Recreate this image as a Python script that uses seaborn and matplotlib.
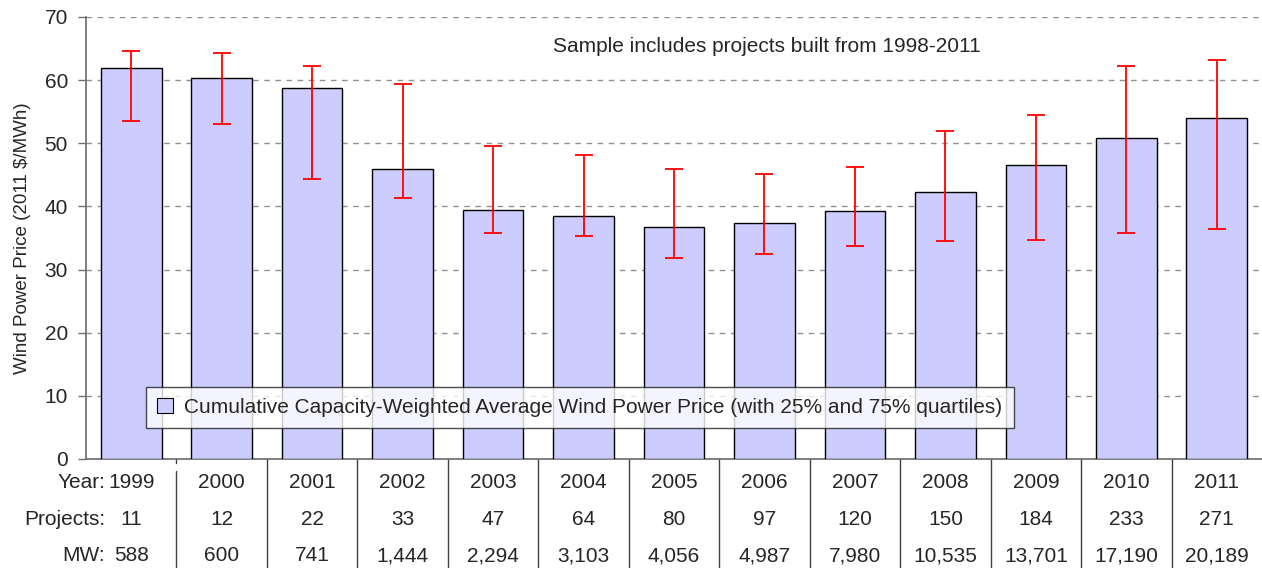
import matplotlib
matplotlib.use("Agg")
import matplotlib.pyplot as plt
import seaborn as sns
import numpy as np
import pandas as pd
from matplotlib.patches import Patch

# Dati
anni = ['1999', '2000', '2001', '2002', '2003', '2004', '2005',
        '2006', '2007', '2008', '2009', '2010', '2011']
prezzo_medio = [61.9, 60.3, 58.8, 45.9, 39.5, 38.5, 36.8, 37.3, 39.3, 42.3, 46.5, 50.8, 54.0]
quartile_25 = [53.5, 53.1, 44.3, 41.3, 35.8, 35.3, 31.9, 32.5, 33.7, 34.5, 34.7, 35.8, 36.5]
quartile_75 = [64.6, 64.3, 62.2, 59.4, 49.6, 48.2, 45.9, 45.1, 46.2, 52.0, 54.5, 62.2, 63.2]
progetti = ['11', '12', '22', '33', '47', '64', '80', '97', '120', '150', '184', '233', '271']
mw = ['588', '600', '741', '1,444', '2,294', '3,103', '4,056', '4,987',
      '7,980', '10,535', '13,701', '17,190', '20,189']

COLOR_BARRA = '#CCCCFF'
COLOR_ERRORE = '#FF0000'
FS = 15

sns.set_theme(style="white")
plt.rcParams['font.family'] = ['Liberation Sans', 'DejaVu Sans']

df = pd.DataFrame({'Anno': anni, 'Prezzo': prezzo_medio})

fig = plt.figure(figsize=(12.62, 5.68), dpi=100)
ax = fig.add_axes([86 / 1262, 1 - 459 / 568, 1 - 86 / 1262, (459 - 17) / 568])

sns.barplot(data=df, x='Anno', y='Prezzo', color=COLOR_BARRA, edgecolor='black',
            linewidth=1.0, width=0.67, saturation=1, ax=ax, zorder=3)

# Barre dei quartili
pos = np.arange(len(anni))
media = np.array(prezzo_medio)
err = [media - np.array(quartile_25), np.array(quartile_75) - media]
ax.errorbar(pos, media, yerr=err, fmt='none', ecolor=COLOR_ERRORE,
            elinewidth=1.3, capsize=6.3, capthick=1.3, zorder=4)

ax.set_xlim(-0.5, len(anni) - 0.5)
ax.set_ylim(0, 70)
ax.set_yticks(range(0, 71, 10))
ax.tick_params(axis='y', labelsize=FS, length=6, width=1, color='#707070',
               direction='out', left=True, pad=7)
ax.set_xticks([])
ax.set_xlabel("")
ax.set_ylabel("Wind Power Price (2011 $/MWh)", fontsize=13.5, labelpad=10)

ax.yaxis.grid(True, linestyle=(0, (4, 4)), color='#909090', linewidth=1.0, zorder=0)
ax.set_axisbelow(True)
for lato in ['top', 'right']:
    ax.spines[lato].set_visible(False)
ax.spines['left'].set_color('#707070')
ax.spines['bottom'].set_color('#707070')

ax.text(0.579, 65.3, "Sample includes projects built from 1998-2011",
        transform=ax.get_yaxis_transform(), ha='center', va='center', fontsize=FS)

legenda = ax.legend(handles=[Patch(facecolor=COLOR_BARRA, edgecolor='black', linewidth=0.8)],
                    labels=["Cumulative Capacity-Weighted Average Wind Power Price (with 25% and 75% quartiles)"],
                    loc='center', bbox_to_anchor=(0.42, 0.1165), fontsize=FS,
                    frameon=True, fancybox=False, handlelength=0.75, handleheight=0.75,
                    borderpad=0.55, handletextpad=0.55)
legenda.get_frame().set_edgecolor('#202020')
legenda.get_frame().set_linewidth(1.0)
legenda.set_zorder(5)

# Tabella sotto l'asse
trasf = ax.get_xaxis_transform()
righe = [(-0.054, 'Year:', anni), (-0.138, 'Projects:', progetti), (-0.219, 'MW:', mw)]
for y_riga, etichetta, valori in righe:
    ax.text(-0.29, y_riga, etichetta, transform=trasf, ha='right', va='center',
            fontsize=FS, clip_on=False)
    for i, v in enumerate(valori):
        ax.text(i, y_riga, v, transform=trasf, ha='center', va='center',
                fontsize=FS, clip_on=False)

# Separatori della tabella: il primo parte un po' più in basso
for i in range(len(anni) - 1):
    inizio = -0.027 if i == 0 else 0.0
    ax.plot([i + 0.5, i + 0.5], [inizio, -0.26], transform=trasf, color='#404040',
            linewidth=1.0, clip_on=False)
ax.plot([0.5, 0.5], [0.0, -0.008], transform=trasf, color='#404040',
        linewidth=1.0, clip_on=False)

fig.savefig("out.png", dpi=100)
